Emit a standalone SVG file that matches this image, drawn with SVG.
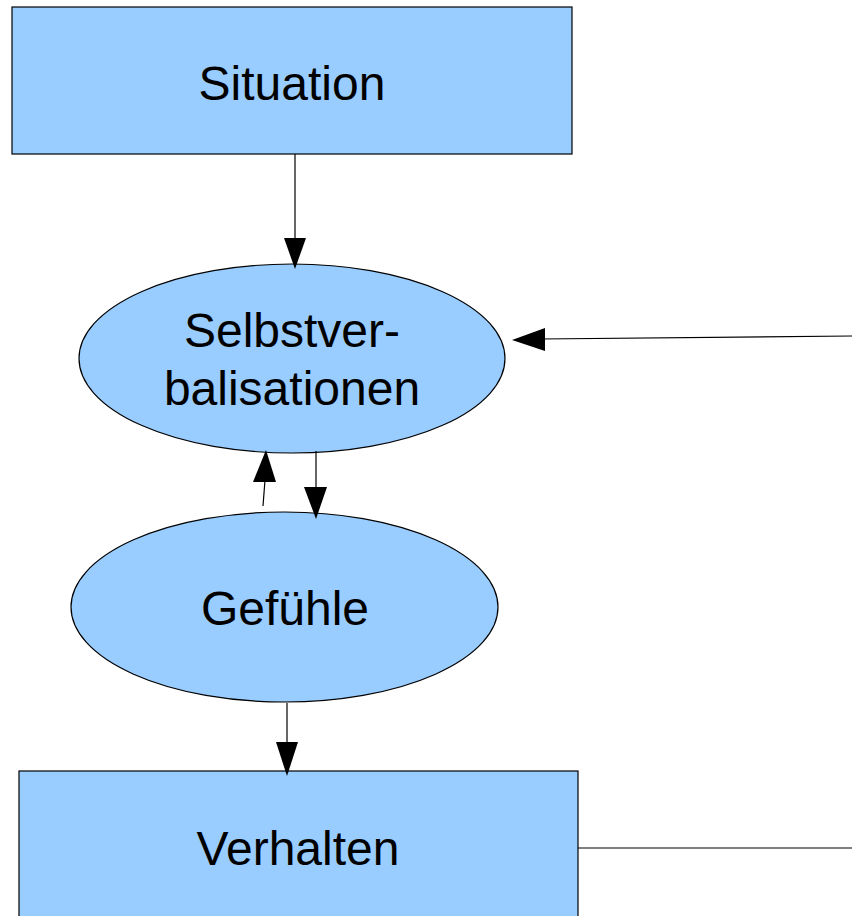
<svg xmlns="http://www.w3.org/2000/svg" width="852" height="916" viewBox="0 0 852 916">
<style>
.box{fill:#99ccff;stroke:#000;stroke-width:1.2}
.t{font-family:"Liberation Sans",Arial,sans-serif;font-size:48px;fill:#000;text-anchor:middle}
.c{stroke:#000;stroke-width:1.2;fill:none}
.h{fill:#000;stroke:none}
</style>
<rect width="852" height="916" fill="#fff"/>
<g id="situation">
<rect class="box" x="12" y="7" width="560" height="147"/>
<text class="t" x="292" y="100">Situation</text>
</g>
<g id="selbstverbalisationen">
<ellipse class="box" cx="292" cy="358.5" rx="213" ry="94.5"/>
<text class="t" x="292" y="347">Selbstver-</text>
<text class="t" x="292" y="405">balisationen</text>
</g>
<g id="gefuehle">
<ellipse class="box" cx="284.5" cy="607" rx="213.5" ry="95"/>
<text class="t" x="285" y="625">Gefühle</text>
</g>
<g id="verhalten">
<rect class="box" x="19" y="771" width="559" height="160"/>
<text class="t" x="298" y="865">Verhalten</text>
</g>
<g id="connectors">
<line class="c" x1="295" y1="154" x2="295" y2="240"/>
<polygon class="h" points="284,238 306,238 295,269"/>
<line class="c" x1="852" y1="336" x2="540" y2="339"/>
<polygon class="h" points="512,340 545,328 545,351"/>
<line class="c" x1="263" y1="506" x2="265" y2="480"/>
<polygon class="h" points="266,450 253,482 276,482"/>
<line class="c" x1="316" y1="451" x2="316" y2="490"/>
<polygon class="h" points="304,487 327,487 316,519"/>
<line class="c" x1="287" y1="703" x2="287" y2="745"/>
<polygon class="h" points="276,742 298,742 287,776"/>
<line class="c" x1="578" y1="848" x2="852" y2="848"/>
</g>
</svg>
